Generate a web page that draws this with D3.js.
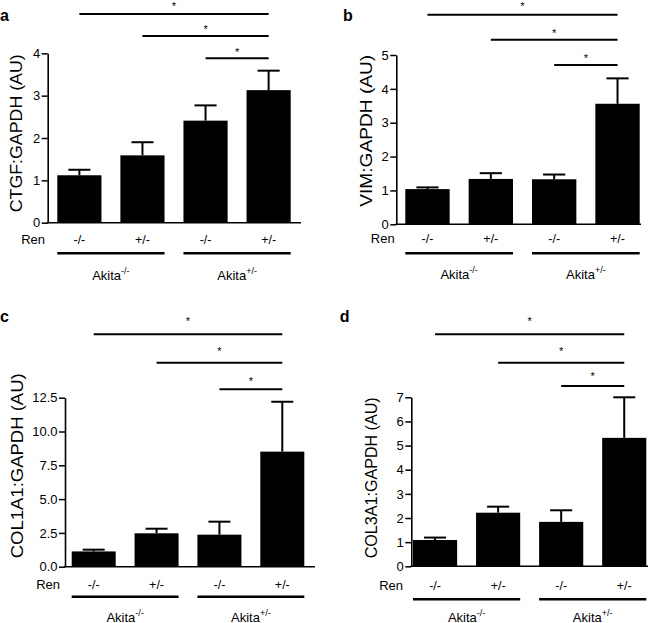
<!DOCTYPE html>
<html>
<head>
<meta charset="utf-8">
<script src="https://cdn.jsdelivr.net/npm/d3@7"></script>
<style>
  html, body { margin: 0; padding: 0; background: #fff; }
  svg { display: block; font-family: "Liberation Sans", Arial, Helvetica, sans-serif; }
</style>
</head>
<body>
<svg id="chart" width="657" height="623"></svg>
<script>
// ---------------- DATA ----------------
const categories = ["-/-", "+/-", "-/-", "+/-"];          // Ren genotype
const groupBase = "Akita";
const groupSup = ["-/-", "+/-"];                           // Akita genotype
const rowLabel = "Ren";
const comparisons = [[0, 3], [1, 3], [2, 3]];             // significance brackets
const sigMark = "*";

const panelLetters = ["a", "b", "c", "d"];
const yLabels = ["CTGF:GAPDH (AU)", "VIM:GAPDH (AU)", "COL1A1:GAPDH (AU)", "COL3A1:GAPDH (AU)"];

const ctgfMean = [1.12, 1.59, 2.41, 3.13];
const ctgfErr  = [0.13, 0.31, 0.36, 0.46];
const vimMean  = [1.04, 1.34, 1.33, 3.56];
const vimErr   = [0.05, 0.17, 0.14, 0.75];
const col1Mean = [1.13, 2.47, 2.37, 8.51];
const col1Err  = [0.13, 0.34, 0.96, 3.69];
const col3Mean = [1.09, 2.22, 1.84, 5.32];
const col3Err  = [0.10, 0.25, 0.48, 1.68];

const ctgfTicks = [0, 1, 2, 3, 4];
const vimTicks  = [0, 1, 2, 3, 4, 5];
const col1Ticks = [0, 2.5, 5.0, 7.5, 10.0, 12.5];
const col3Ticks = [0, 1, 2, 3, 4, 5, 6, 7];
const tickFormats = [d3.format("d"), d3.format("d"), d3.format(".1f"), d3.format("d")];

const means = [ctgfMean, vimMean, col1Mean, col3Mean];
const errs = [ctgfErr, vimErr, col1Err, col3Err];
const ticks = [ctgfTicks, vimTicks, col1Ticks, col3Ticks];

// ---------------- LAYOUT (positions only) ----------------
const layouts = [
  { x0: 47.7, x1: 301, b0: 57.3, b1: 290.7, y0: 222.7, yTop: 53.3,
    lab: [0, 20.7], ylab: [16.7, 133.3, 158], renX: 45, renY: 243.5, grpY: 253.3, akY: 280,
    sigY: [14, 36, 58.3], starY: [3.6, 27.3, 50] },
  { x0: 396.3, x1: 641, b0: 405.3, b1: 639.7, y0: 224.3, yTop: 55,
    lab: [343, 20.7], ylab: [366, 130.8, 152], renX: 394.7, renY: 243.3, grpY: 253.3, akY: 278.5,
    sigY: [14.7, 39.7, 65], starY: [3.6, 30.7, 56] },
  { x0: 65, x1: 315, b0: 71.7, b1: 304.3, y0: 566.7, yTop: 397.7,
    lab: [0, 321.7], ylab: [17, 465.8, 185], renX: 60, renY: 589, grpY: 596.7, akY: 621.5,
    sigY: [334.3, 362.7, 389.3], starY: [319.3, 349, 379] },
  { x0: 411.3, x1: 648, b0: 413, b1: 646.3, y0: 566.3, yTop: 397.3,
    lab: [339.7, 321.7], ylab: [371, 477.8, 161], renX: 403, renY: 589.5, grpY: 599.3, akY: 621.5,
    sigY: [334.3, 362.7, 386], starY: [319.3, 349, 374.3] }
];

const svg = d3.select("#chart");

layouts.forEach((L, p) => {
  const g = svg.append("g");
  const vals = means[p], ev = errs[p], tk = ticks[p];
  const idx = categories.map((_, i) => i);

  const x = d3.scaleBand().domain(idx).range([L.b0, L.b1]).paddingInner(0.3).paddingOuter(0);
  const y = d3.scaleLinear().domain([0, d3.max(tk)]).range([L.y0, L.yTop]);

  // bars
  g.selectAll("rect.bar").data(idx).join("rect")
    .attr("x", i => x(i)).attr("width", x.bandwidth())
    .attr("y", i => y(vals[i])).attr("height", i => y(0) - y(vals[i]))
    .attr("fill", "#000");

  // error bars (upper only)
  const eb = g.selectAll("g.err").data(idx).join("g");
  eb.append("line")
    .attr("x1", i => x(i) + x.bandwidth() / 2).attr("x2", i => x(i) + x.bandwidth() / 2)
    .attr("y1", i => y(vals[i])).attr("y2", i => y(vals[i] + ev[i]))
    .attr("stroke", "#000").attr("stroke-width", 2);
  eb.append("line")
    .attr("x1", i => x(i) + x.bandwidth() / 4).attr("x2", i => x(i) + x.bandwidth() * 3 / 4)
    .attr("y1", i => y(vals[i] + ev[i])).attr("y2", i => y(vals[i] + ev[i]))
    .attr("stroke", "#000").attr("stroke-width", 2);

  // y axis
  const yAxis = d3.axisLeft(y).tickValues(tk).tickFormat(tickFormats[p]).tickSize(6).tickPadding(1.5).tickSizeOuter(0);
  const ga = g.append("g").attr("transform", `translate(${L.x0},0)`).call(yAxis);
  ga.select(".domain").attr("stroke", "#000").attr("stroke-width", 1.6);
  ga.selectAll(".tick line").attr("stroke", "#000").attr("stroke-width", 1.5);
  ga.selectAll(".tick text").attr("font-size", 13).attr("fill", "#000")
    .attr("font-family", "Liberation Sans, Arial, sans-serif");

  // x baseline
  g.append("line").attr("x1", L.x0 - 0.8).attr("x2", L.x1).attr("y1", y(0)).attr("y2", y(0))
    .attr("stroke", "#000").attr("stroke-width", 1.6);

  // y label
  g.append("text")
    .attr("transform", `translate(${L.ylab[0]},${L.ylab[1]}) rotate(-90)`)
    .attr("text-anchor", "middle").attr("dominant-baseline", "central")
    .attr("font-size", 17).attr("textLength", L.ylab[2]).attr("lengthAdjust", "spacingAndGlyphs")
    .text(yLabels[p]);

  // panel letter
  g.append("text").attr("x", L.lab[0]).attr("y", L.lab[1])
    .attr("font-size", 16).attr("font-weight", "bold").text(panelLetters[p]);

  // Ren row
  g.append("text").attr("x", L.renX).attr("y", L.renY).attr("text-anchor", "end")
    .attr("font-size", 13).text(rowLabel);
  g.selectAll("text.cat").data(idx).join("text")
    .attr("x", i => x(i) + x.bandwidth() / 2).attr("y", L.renY)
    .attr("text-anchor", "middle").attr("font-size", 12.5)
    .text(i => categories[i]);

  // group lines and labels
  groupSup.forEach((s, gi) => {
    const a = x(gi * 2), b = x(gi * 2 + 1) + x.bandwidth();
    g.append("line").attr("x1", a).attr("x2", b).attr("y1", L.grpY).attr("y2", L.grpY)
      .attr("stroke", "#000").attr("stroke-width", 2.5);
    const t = g.append("text").attr("x", (a + b) / 2).attr("y", L.akY)
      .attr("text-anchor", "middle").attr("font-size", 13);
    t.append("tspan").text(groupBase);
    t.append("tspan").attr("font-size", 9).attr("dy", -6).text(s);
  });

  // significance brackets
  comparisons.forEach((c, k) => {
    const a = x(c[0]) + x.bandwidth() / 2, b = x(c[1]) + x.bandwidth() / 2;
    g.append("line").attr("x1", a).attr("x2", b).attr("y1", L.sigY[k]).attr("y2", L.sigY[k])
      .attr("stroke", "#000").attr("stroke-width", 2);
    g.append("text").attr("x", (a + b) / 2).attr("y", L.starY[k] + 6)
      .attr("text-anchor", "middle").attr("font-size", 11).text(sigMark);
  });
});
</script>
</body>
</html>
